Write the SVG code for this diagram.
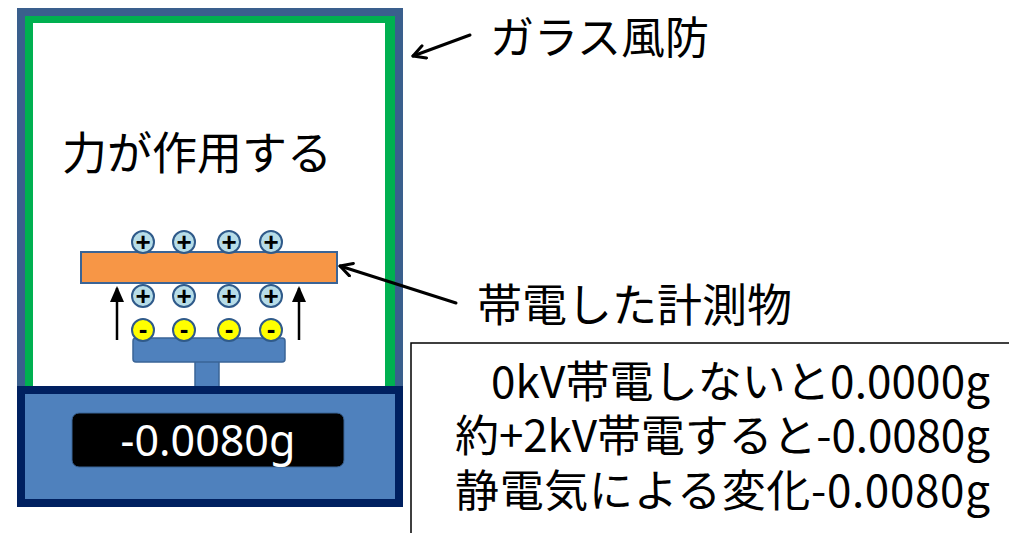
<svg xmlns="http://www.w3.org/2000/svg" width="1009" height="533" viewBox="0 0 1009 533">
  <style>
    .jp { font-family: "Noto Sans CJK JP", "Noto Sans", sans-serif; fill: #000; }
    .plus { fill: #B7DDE8; stroke: #2F5A8A; stroke-width: 2; }
    .minus { fill: #FFFF00; stroke: #2F5A8A; stroke-width: 2; }
    .sign { font-family: "Liberation Sans", sans-serif; font-size: 26px; font-weight: bold; text-anchor: middle; fill: #000; }
    .lead { fill: none; stroke: #000; stroke-width: 3; stroke-linecap: round; stroke-linejoin: round; }
  </style>
  <defs>
    <marker id="open" markerWidth="16" markerHeight="16" refX="14" refY="8" orient="auto" markerUnits="userSpaceOnUse" viewBox="0 0 16 16">
      <path d="M2,1.5 L14,8 L2,14.5" fill="none" stroke="#000" stroke-width="3" stroke-linecap="round" stroke-linejoin="round"/>
    </marker>
    <marker id="solid" markerWidth="16" markerHeight="14" refX="14" refY="7" orient="auto" markerUnits="userSpaceOnUse" viewBox="0 0 16 14">
      <path d="M0,0 L16,7 L0,14 Z" fill="#000"/>
    </marker>
  </defs>

  <rect width="1009" height="533" fill="#fff"/>

  <!-- glass draft shield -->
  <g id="shield">
    <rect x="17" y="8" width="386" height="386" fill="#3A5F8D"/>
    <rect x="25" y="16" width="370" height="378" fill="#00B050"/>
    <rect x="33" y="23" width="352" height="371" fill="#fff"/>
  </g>

  <!-- balance pan and stem -->
  <g id="pan">
    <rect x="195" y="360" width="24" height="30" fill="#4F81BD" stroke="#3A6496" stroke-width="1.5"/>
    <rect x="133" y="338" width="152" height="24" rx="3" fill="#4F81BD" stroke="#3A6496" stroke-width="1.5"/>
  </g>

  <!-- balance base with display -->
  <g id="base">
    <rect x="21" y="390" width="378" height="113" fill="#4F81BD" stroke="#002060" stroke-width="8"/>
    <rect x="72" y="413" width="272" height="54" rx="7" fill="#000" stroke="#3A6496" stroke-width="1"/>
    <text x="208" y="456" font-family="Noto Sans, sans-serif" font-size="43" fill="#fff" text-anchor="middle">-0.0080g</text>
  </g>

  <!-- charged object -->
  <g id="object">
    <rect x="81" y="252" width="256" height="31" fill="#F79646" stroke="#3A6496" stroke-width="2"/>
  </g>

  <!-- charges -->
  <g id="charges-top">
    <circle class="plus" cx="143" cy="242" r="11"/>
    <circle class="plus" cx="184" cy="242" r="11"/>
    <circle class="plus" cx="229" cy="242" r="11"/>
    <circle class="plus" cx="271" cy="242" r="11"/>
    <text class="sign" x="143" y="251">+</text>
    <text class="sign" x="184" y="251">+</text>
    <text class="sign" x="229" y="251">+</text>
    <text class="sign" x="271" y="251">+</text>
  </g>
  <g id="charges-bottom">
    <circle class="plus" cx="143" cy="296" r="11"/>
    <circle class="plus" cx="184" cy="296" r="11"/>
    <circle class="plus" cx="229" cy="296" r="11"/>
    <circle class="plus" cx="271" cy="296" r="11"/>
    <text class="sign" x="143" y="305">+</text>
    <text class="sign" x="184" y="305">+</text>
    <text class="sign" x="229" y="305">+</text>
    <text class="sign" x="271" y="305">+</text>
  </g>
  <g id="charges-pan">
    <circle class="minus" cx="143" cy="330" r="11"/>
    <circle class="minus" cx="184" cy="330" r="11"/>
    <circle class="minus" cx="229" cy="330" r="11"/>
    <circle class="minus" cx="271" cy="330" r="11"/>
    <text class="sign" x="143" y="338" font-size="20">-</text>
    <text class="sign" x="184" y="338" font-size="20">-</text>
    <text class="sign" x="229" y="338" font-size="20">-</text>
    <text class="sign" x="271" y="338" font-size="20">-</text>
  </g>

  <!-- connectors -->
  <g id="connectors">
    <line x1="117" y1="340" x2="117" y2="288" stroke="#000" stroke-width="2.5" marker-end="url(#solid)"/>
    <line x1="299" y1="340" x2="299" y2="288" stroke="#000" stroke-width="2.5" marker-end="url(#solid)"/>
    <line class="lead" x1="456" y1="303" x2="340" y2="266" marker-end="url(#open)"/>
    <line class="lead" x1="470" y1="35" x2="413" y2="56" marker-end="url(#open)"/>
  </g>

  <!-- labels -->
  <g id="label-shield">
    <text class="jp" x="490" y="54" font-size="44">ガラス風防</text>
  </g>
  <g id="label-force">
    <text class="jp" x="62" y="170" font-size="45">力が作用する</text>
  </g>
  <g id="label-object">
    <text class="jp" x="477" y="322" font-size="45">帯電した計測物</text>
  </g>

  <!-- results box -->
  <g id="results">
    <rect x="411" y="343" width="610" height="200" fill="#fff" stroke="#000" stroke-width="1.5"/>
    <text class="jp" x="990" y="398" font-size="44" text-anchor="end" textLength="499">0kV帯電しないと0.0000g</text>
    <text class="jp" x="990" y="452" font-size="44" text-anchor="end" textLength="535">約+2kV帯電すると-0.0080g</text>
    <text class="jp" x="990" y="507" font-size="44" text-anchor="end" textLength="535">静電気による変化-0.0080g</text>
  </g>
</svg>
